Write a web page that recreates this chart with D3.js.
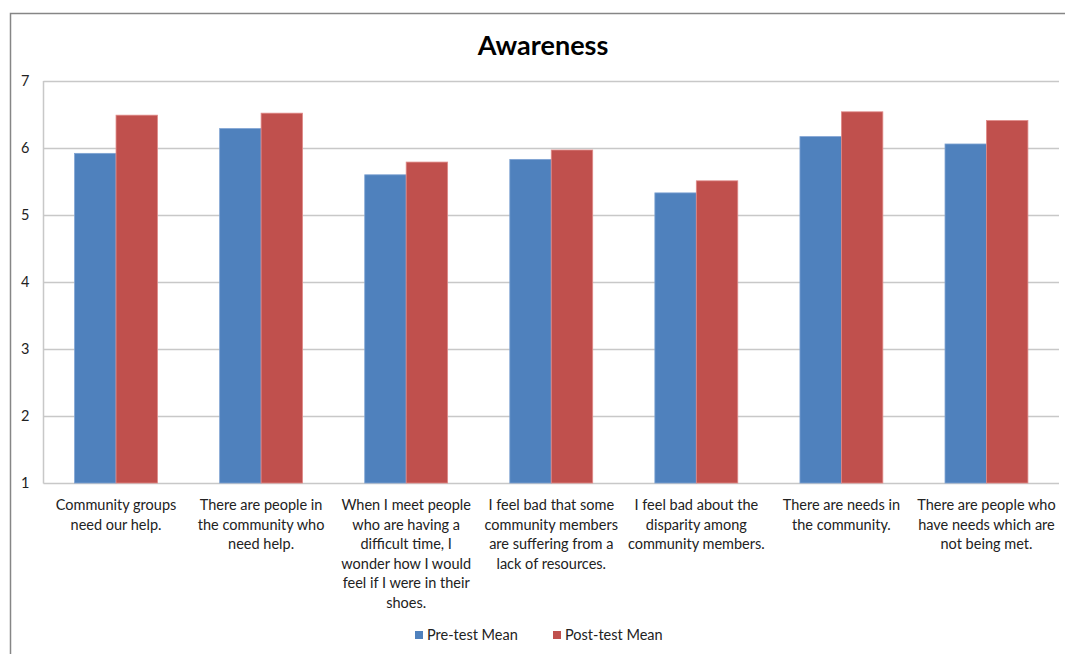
<!DOCTYPE html>
<html><head><meta charset="utf-8">
<script src="https://cdn.jsdelivr.net/npm/d3@7"></script>
<style>body{margin:0;background:#fff;} svg{display:block;}</style>
</head><body>
<svg id="chart" width="1065" height="654"></svg>
<script>
const categories = [
  "Community groups need our help.",
  "There are people in the community who need help.",
  "When I meet people who are having a difficult time, I wonder how I would feel if I were in their shoes.",
  "I feel bad that some community members are suffering from a lack of resources.",
  "I feel bad about the disparity among community members.",
  "There are needs in the community.",
  "There are people who have needs which are not being met."
];
const labelLines = [
  ["Community groups", "need our help."],
  ["There are people in", "the community who", "need help."],
  ["When I meet people", "who are having a", "difficult time, I", "wonder how I would", "feel if I were in their", "shoes."],
  ["I feel bad that some", "community members", "are suffering from a", "lack of resources."],
  ["I feel bad about the", "disparity among", "community members."],
  ["There are needs in", "the community."],
  ["There are people who", "have needs which are", "not being met."]
];
const seriesNames = ["Pre-test Mean", "Post-test Mean"];
const preTest = [5.92, 6.29, 5.60, 5.83, 5.33, 6.17, 6.06];
const postTest = [6.49, 6.52, 5.79, 5.97, 5.51, 6.54, 6.41];
const yTicks = [1, 2, 3, 4, 5, 6, 7];
const title = "Awareness";

const colors = ["#4F81BD", "#C0504D"];
const strokes = ["#7FA3D3", "#E08A88"];
const font = "Lato, 'Open Sans', sans-serif";

const svg = d3.select("#chart");
const W = 1065, H = 654;
const plot = {left: 43.5, right: 1059, top: 81, bottom: 483};

// frame
svg.append("path").attr("d", `M10.5,${H} L10.5,13.5 L${W},13.5`)
  .attr("fill", "none").attr("stroke", "#868686").attr("stroke-width", 1.5);

// Excel-like: gap width 150% => step = 3.5 bar widths
const step = (plot.right - plot.left) / categories.length;
const barW = step / 3.5;
const x = d3.scaleBand().domain(d3.range(categories.length)).range([plot.left, plot.right]);
const xs = d3.scaleBand().domain([0, 1]).range([0, 2 * barW]);
const y = d3.scaleLinear().domain([1, 7]).range([plot.bottom, plot.top]);

// gridlines
svg.append("g").selectAll("line").data(yTicks).join("line")
  .attr("x1", plot.left).attr("x2", plot.right)
  .attr("y1", d => Math.round(y(d)) + 0.5).attr("y2", d => Math.round(y(d)) + 0.5)
  .attr("stroke", "#C8C8C8").attr("stroke-width", 1.5);

// y axis line
svg.append("line").attr("x1", plot.left).attr("x2", plot.left)
  .attr("y1", plot.top).attr("y2", plot.bottom + 0.5)
  .attr("stroke", "#C8C8C8").attr("stroke-width", 1.5);

// y tick labels
const yAxis = d3.axisLeft(y).tickValues(yTicks).tickSize(0).tickPadding(14).tickFormat(d3.format("d"));
const ya = svg.append("g").attr("transform", `translate(${plot.left},0)`).call(yAxis);
ya.select(".domain").remove();
ya.selectAll("text").attr("font-family", font).attr("font-size", 14.5).attr("fill", "#222");

// bars
const data = [preTest, postTest];
const groups = svg.append("g").selectAll("g").data(categories.map((c, i) => i)).join("g")
  .attr("transform", i => `translate(${x(i) + (step - 2 * barW) / 2},0)`);
groups.selectAll("rect").data(i => [0, 1].map(s => ({s, v: data[s][i]}))).join("rect")
  .attr("x", d => xs(d.s)).attr("width", xs.bandwidth())
  .attr("y", d => y(d.v)).attr("height", d => plot.bottom - y(d.v))
  .attr("fill", d => colors[d.s]).attr("stroke", d => strokes[d.s]).attr("stroke-width", 0.8);

// x labels
const lab = svg.append("g").selectAll("text").data(labelLines).join("text")
  .attr("font-family", font).attr("font-size", 14.5).attr("fill", "#222")
  .attr("text-anchor", "middle")
  .attr("x", (d, i) => x(i) + step / 2)
  .attr("y", 510);
lab.selectAll("tspan").data(d => d).join("tspan")
  .attr("x", function() { return d3.select(this.parentNode).attr("x"); })
  .attr("dy", (d, i) => i === 0 ? 0 : 19.5)
  .text(d => d);

// title
svg.append("text").attr("x", 543).attr("y", 55).attr("text-anchor", "middle")
  .attr("font-family", font).attr("font-weight", "bold").attr("font-size", 27)
  .attr("fill", "#000").text(title);

// legend
const legendX = [415, 553];
const lg = svg.append("g").selectAll("g").data(seriesNames).join("g")
  .attr("transform", (d, i) => `translate(${legendX[i]},631)`);
lg.append("rect").attr("width", 8).attr("height", 8).attr("fill", (d, i) => colors[i]);
lg.append("text").attr("x", 12).attr("y", 9).attr("font-family", font).attr("font-size", 14.5)
  .attr("fill", "#222").text(d => d);
</script>
</body></html>
